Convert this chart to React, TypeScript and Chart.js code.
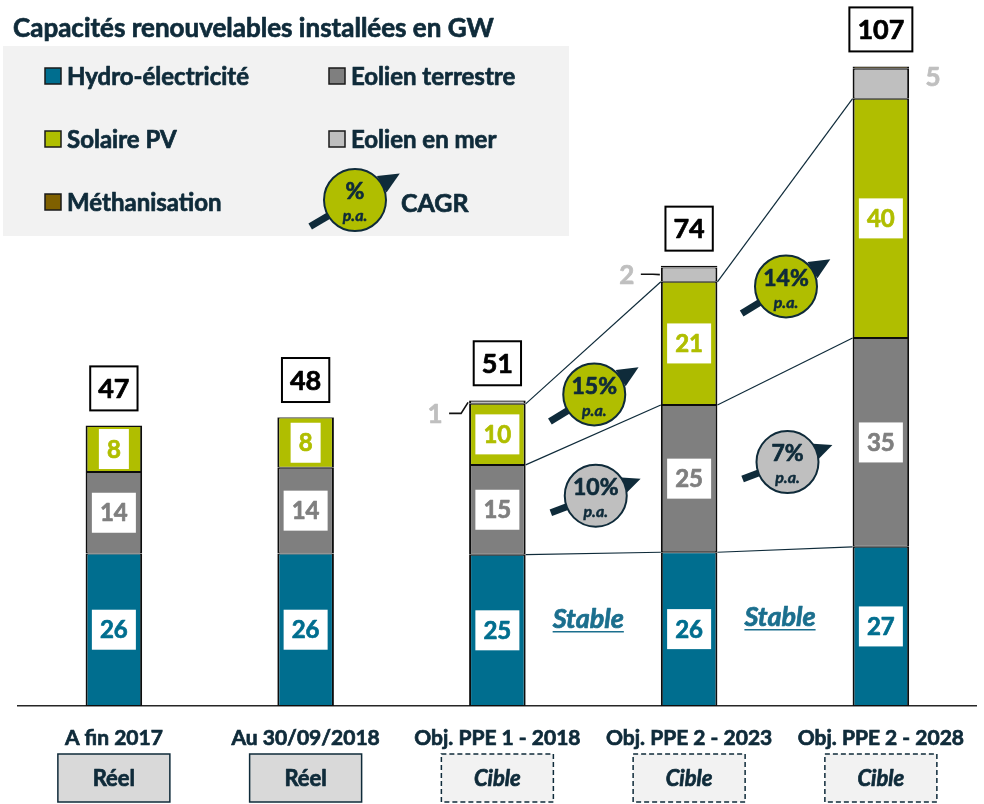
import React, { useEffect, useRef } from 'react';
import { Chart, registerables } from 'chart.js';

Chart.register(...registerables);

// ---------- data ----------
const categories = ['A fin 2017', 'Au 30/09/2018', 'Obj. PPE 1 - 2018', 'Obj. PPE 2 - 2023', 'Obj. PPE 2 - 2028'];
const statusLabels = ['Réel', 'Réel', 'Cible', 'Cible', 'Cible'];
const seriesNames = ['Hydro-électricité', 'Eolien terrestre', 'Solaire PV', 'Eolien en mer', 'Méthanisation'];
const hydro = [25.5, 25.5, 25.3, 25.7, 26.6];
const eolienTerrestre = [13.6, 14.3, 15.0, 24.6, 34.9];
const solaire = [7.7, 8.4, 10.2, 20.6, 40.0];
const eolienMer = [0, 0, 0.5, 2.4, 5.0];
const methanisation = [0.1, 0.1, 0.1, 0.3, 0.4];
const cagrSolaire = ['15%', '14%'];
const cagrTerrestre = ['10%', '7%'];
const hydroTrend = ['Stable', 'Stable'];
const titleText = 'Capacités renouvelables installées en GW';
const cagrLegend = ['%', 'p.a.', 'CAGR'];

const NAVY = '#0F2B3A';
const C_HYDRO = '#006E8F';
const C_TERR = '#7F7F7F';
const C_SOLAR = '#B0BE00';
const C_MER = '#BFBFBF';
const C_METH = '#7F6000';
const C_STABLE = '#1B6F8E';
const FONT = 'Lato, "Open Sans", sans-serif';
const W = 'bold';

const font = (size: number, weight = W, style = 'normal') => `${style} ${weight} ${size}px ${FONT}`;

// heavier text: fill plus a thin stroke of the same colour
function heavyText(ctx: CanvasRenderingContext2D, txt: string, x: number, y: number, color: string, sw = 0.7) {
  ctx.fillStyle = color;
  ctx.fillText(txt, x, y);
  ctx.save();
  ctx.strokeStyle = color;
  ctx.lineWidth = sw;
  ctx.lineJoin = 'round';
  ctx.strokeText(txt, x, y);
  ctx.restore();
}

function drawArrow(ctx: CanvasRenderingContext2D, cx: number, cy: number, angleDeg: number, halfLen: number) {
  const a = (angleDeg * Math.PI) / 180;
  const dx = Math.cos(a), dy = Math.sin(a);
  const tx = cx - dx * halfLen, ty = cy - dy * halfLen;
  const px = cx + dx * halfLen, py = cy + dy * halfLen;
  const headLen = 21, headW = 9.5;
  const bx = px - dx * headLen, by = py - dy * headLen;
  ctx.save();
  ctx.strokeStyle = NAVY;
  ctx.fillStyle = NAVY;
  ctx.lineWidth = 7;
  ctx.beginPath();
  ctx.moveTo(tx, ty);
  ctx.lineTo(bx + dx * 2, by + dy * 2);
  ctx.stroke();
  ctx.beginPath();
  ctx.moveTo(px, py);
  ctx.lineTo(bx - dy * headW, by + dx * headW);
  ctx.lineTo(bx + dy * headW, by - dx * headW);
  ctx.closePath();
  ctx.fill();
  ctx.restore();
}

function drawCagr(ctx: CanvasRenderingContext2D, cx: number, cy: number, r: number, fill: string, angle: number, halfLen: number, top: string, bottom: string, topSize: number) {
  drawArrow(ctx, cx, cy, angle, halfLen);
  ctx.save();
  ctx.beginPath();
  ctx.arc(cx, cy, r, 0, Math.PI * 2);
  ctx.fillStyle = fill;
  ctx.fill();
  ctx.lineWidth = 2;
  ctx.strokeStyle = NAVY;
  ctx.stroke();
  ctx.textAlign = 'center';
  ctx.textBaseline = 'middle';
  ctx.font = font(topSize);
  heavyText(ctx, top, cx, cy - 8, NAVY);
  ctx.font = font(16, W, 'italic');
  heavyText(ctx, bottom, cx, cy + 16, NAVY, 0.5);
  ctx.restore();
}

const overlay = {
  id: 'overlay',
  beforeDatasetsDraw(chart: any) {
    const ctx: CanvasRenderingContext2D = chart.ctx;
    ctx.save();
    // title
    ctx.font = font(26);
    ctx.textAlign = 'left';
    ctx.textBaseline = 'alphabetic';
    heavyText(ctx, titleText, 13, 37, NAVY);
    // legend box
    ctx.fillStyle = '#F2F2F2';
    ctx.fillRect(3, 46, 566, 190);
    const colors = [C_HYDRO, C_TERR, C_SOLAR, C_MER, C_METH];
    const pos = [
      [45, 76], [329, 76],
      [45, 139], [329, 139],
      [45, 202],
    ];
    seriesNames.forEach((name, k) => {
      const [x, y] = pos[k];
      ctx.fillStyle = colors[k];
      ctx.fillRect(x, y - 8, 16, 16);
      ctx.lineWidth = 1.5;
      ctx.strokeStyle = '#1a1a1a';
      ctx.strokeRect(x, y - 8, 16, 16);
      ctx.font = font(24);
      ctx.textBaseline = 'middle';
      ctx.textAlign = 'left';
      heavyText(ctx, name, x + 22, y + 1, NAVY);
    });
    drawCagr(ctx, 355, 200, 31, C_SOLAR, -30.5, 52, cagrLegend[0], cagrLegend[1], 23);
    ctx.font = font(25);
    ctx.textAlign = 'left';
    ctx.textBaseline = 'middle';
    heavyText(ctx, cagrLegend[2], 401, 204, NAVY);

    // connecting lines between target bars
    const bar = (ds: number, i: number) => chart.getDatasetMeta(ds).data[i] as any;
    ctx.strokeStyle = NAVY;
    ctx.lineWidth = 1.2;
    for (let i = 2; i < categories.length - 1; i++) {
      for (const ds of [0, 1, 2]) {
        const a = bar(ds, i), b = bar(ds, i + 1);
        ctx.beginPath();
        ctx.moveTo(a.x + a.width / 2, a.y);
        ctx.lineTo(b.x - b.width / 2, b.y);
        ctx.stroke();
      }
    }
    ctx.restore();
  },
  afterDatasetsDraw(chart: any) {
    const ctx: CanvasRenderingContext2D = chart.ctx;
    const bar = (ds: number, i: number) => chart.getDatasetMeta(ds).data[i] as any;
    const seriesVals = [hydro, eolienTerrestre, solaire, eolienMer, methanisation];
    const textColors = [C_HYDRO, C_TERR, C_SOLAR];
    ctx.save();
    ctx.textAlign = 'center';
    ctx.textBaseline = 'middle';
    // segment value labels
    for (let ds = 0; ds < 3; ds++) {
      seriesVals[ds].forEach((v, i) => {
        const b = bar(ds, i);
        const txt = String(Math.round(v));
        const w = txt.length === 1 ? 30 : 44;
        const cy = (b.y + b.base) / 2;
        ctx.fillStyle = '#FFFFFF';
        ctx.fillRect(b.x - w / 2, cy - 20, w, 40);
        ctx.font = font(24);
        heavyText(ctx, txt, b.x, cy + 1, textColors[ds]);
      });
    }
    // totals
    categories.forEach((_, i) => {
      const total = seriesVals.reduce((s, arr) => s + arr[i], 0);
      const txt = String(Math.round(total));
      const top = bar(4, i).y;
      ctx.font = font(27);
      const w = ctx.measureText(txt).width + 16;
      const h = 44;
      const y0 = top - 15 - h;
      const x = bar(0, i).x;
      ctx.fillStyle = '#FFFFFF';
      ctx.fillRect(x - w / 2, y0, w, h);
      ctx.lineWidth = 2;
      ctx.strokeStyle = '#000000';
      ctx.strokeRect(x - w / 2, y0, w, h);
      heavyText(ctx, txt, x, y0 + h / 2 + 1, '#000000');
    });
    // offshore wind labels
    eolienMer.forEach((v, i) => {
      if (v <= 0) return;
      const b = bar(3, i);
      const left = b.x - b.width / 2, right = b.x + b.width / 2;
      const h = b.base - b.y;
      const mid = (b.y + b.base) / 2;
      const txt = String(Math.round(v));
      ctx.font = font(26);
      if (i < eolienMer.length - 1) {
        const ly = mid + Math.max(0, 16 - h) - 2;
        heavyText(ctx, txt, left - 34, ly + 1, C_MER);
        ctx.strokeStyle = '#111111';
        ctx.lineWidth = 1.6;
        ctx.beginPath();
        ctx.moveTo(left - 20, ly);
        ctx.lineTo(left - 8, ly);
        ctx.lineTo(left - 1, mid);
        ctx.stroke();
      } else {
        heavyText(ctx, txt, right + 24, mid - 6, C_MER);
      }
    });
    // CAGR bubbles and "Stable"
    for (let k = 0; k < categories.length - 3; k++) {
      const i = 2 + k, j = 3 + k;
      const a0 = bar(0, i), b0 = bar(0, j);
      const a1 = bar(1, i), b1 = bar(1, j);
      const a2 = bar(2, i), b2 = bar(2, j);
      const mx = (a0.x + a0.width / 2 + b0.x - b0.width / 2) / 2;
      const m0 = (a0.y + b0.y) / 2;
      const m1 = (a1.y + b1.y) / 2;
      const m2 = (a2.y + b2.y) / 2;
      drawCagr(ctx, mx + 1, (m1 + m2) / 2 + 5.5, 31, C_SOLAR, -31.5, 52, cagrSolaire[k], 'p.a.', 23);
      drawCagr(ctx, mx + 2.5, (m0 + m1) / 2 + 1.5, 31, C_MER, -20.7, 48, cagrTerrestre[k], 'p.a.', 23);
      const base = (a0.base + b0.base) / 2;
      const sy = (m0 + base) / 2 - 2;
      ctx.font = font(27, W, 'italic');
      ctx.textBaseline = 'alphabetic';
      const sw = ctx.measureText(hydroTrend[k]).width;
      heavyText(ctx, hydroTrend[k], mx - 5, sy, C_STABLE);
      ctx.strokeStyle = C_STABLE;
      ctx.lineWidth = 1.5;
      ctx.beginPath();
      ctx.moveTo(mx - 5 - sw / 2, sy + 4);
      ctx.lineTo(mx - 5 + sw / 2, sy + 4);
      ctx.stroke();
      ctx.textBaseline = 'middle';
    }
    // status boxes under categories
    statusLabels.forEach((s, i) => {
      const x = bar(0, i).x;
      const w = 112, h = 48, y0 = 754;
      const real = s === 'Réel';
      ctx.fillStyle = real ? '#D9D9D9' : '#F2F2F2';
      ctx.fillRect(x - w / 2, y0, w, h);
      ctx.strokeStyle = NAVY;
      ctx.lineWidth = 1.5;
      ctx.setLineDash(real ? [] : [5, 3]);
      ctx.strokeRect(x - w / 2, y0, w, h);
      ctx.setLineDash([]);
      ctx.font = font(22, W, real ? 'normal' : 'italic');
      heavyText(ctx, s, x, y0 + h / 2 + 1, NAVY);
    });
    ctx.restore();
  },
};

export default function App() {
  const ref = useRef<HTMLCanvasElement | null>(null);
  useEffect(() => {
    if (!ref.current) return;
    const border = { top: 1, bottom: 1, left: 2, right: 2 };
    const mk = (label: string, data: number[], color: string) => ({
      label,
      data,
      backgroundColor: color,
      borderColor: '#0D0D0D',
      borderWidth: border,
      borderSkipped: false,
      categoryPercentage: 1,
      barPercentage: 0.295,
    });
    const chart = new Chart(ref.current, {
      type: 'bar',
      data: {
        labels: categories,
        datasets: [
          mk(seriesNames[0], hydro, C_HYDRO),
          mk(seriesNames[1], eolienTerrestre, C_TERR),
          mk(seriesNames[2], solaire, C_SOLAR),
          mk(seriesNames[3], eolienMer, C_MER),
          mk(seriesNames[4], methanisation, C_METH),
        ] as any,
      },
      options: {
        responsive: false,
        animation: false,
        events: [],
        layout: { padding: { left: 18, right: 0, top: 0, bottom: 0 } },
        plugins: { legend: { display: false }, tooltip: { enabled: false }, title: { display: false } },
        scales: {
          x: {
            stacked: true,
            grid: { display: false, drawTicks: false },
            border: { display: true, color: '#262626', width: 1.5 },
            ticks: {
              color: NAVY,
              textStrokeColor: NAVY,
              textStrokeWidth: 0.7,
              font: { family: FONT, weight: 'bold', size: 21 },
              padding: 20,
              autoSkip: false,
              maxRotation: 0,
            },
            afterFit: (s: any) => {
              s.height = 98;
            },
          },
          y: { stacked: true, display: false, min: 0, max: 118 },
        },
      } as any,
      plugins: [overlay],
    });
    return () => chart.destroy();
  }, []);
  return (
    <div style={{ position: 'absolute', left: 0, top: 0, width: 984, height: 804, background: '#FFFFFF' }}>
      <canvas ref={ref} width={984} height={804} style={{ display: 'block', width: 984, height: 804 }} />
    </div>
  );
}
